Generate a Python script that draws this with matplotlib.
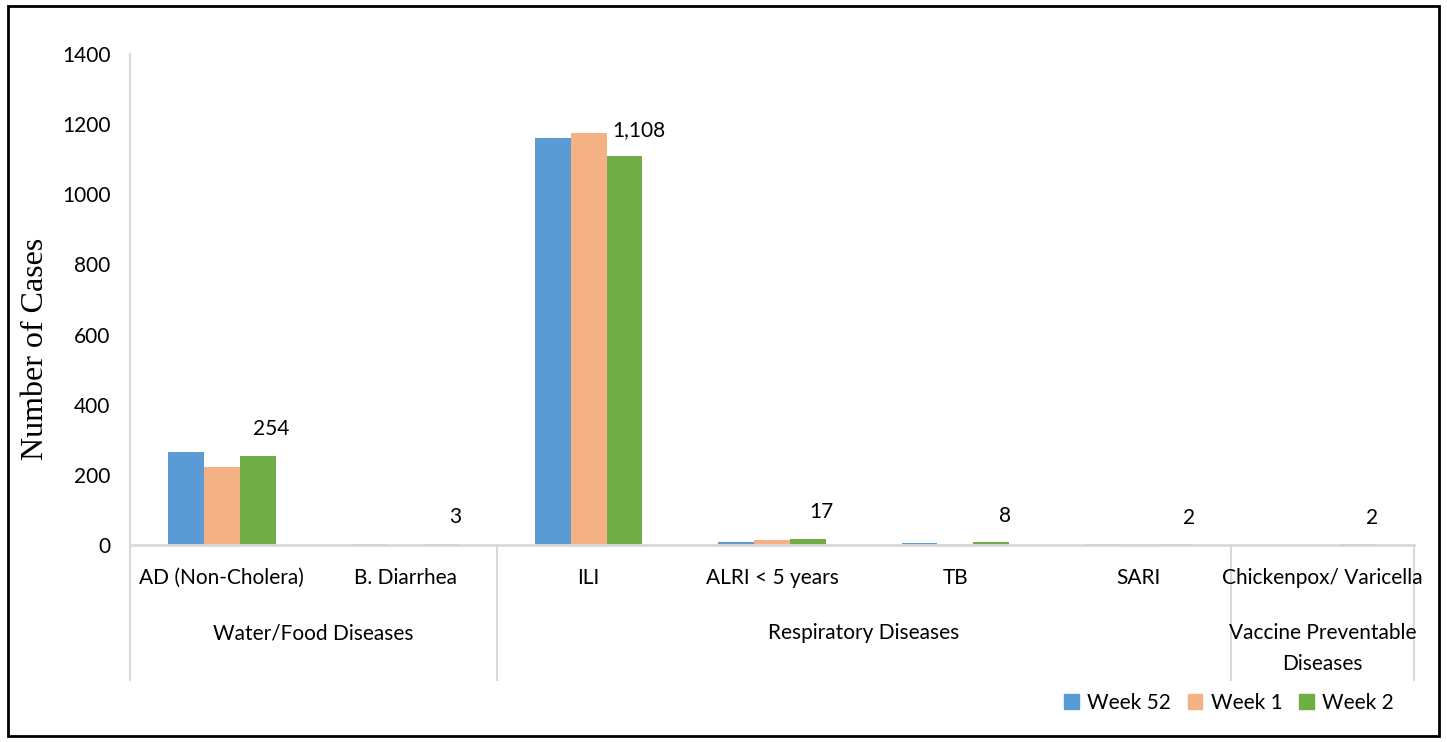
import matplotlib
matplotlib.use("Agg")
import matplotlib.pyplot as plt
import matplotlib.transforms as mtransforms
from matplotlib.patches import Rectangle, Patch
import numpy as np

# weekly case counts by disease
diseases = ["AD (Non-Cholera)", "B. Diarrhea", "ILI", "ALRI < 5 years", "TB", "SARI",
            "Chickenpox/ Varicella"]
groups = ["Water/Food Diseases", "Respiratory Diseases", "Vaccine Preventable\nDiseases"]
group_sizes = [2, 4, 1]
series = ["Week 52", "Week 1", "Week 2"]
week52 = [265, 3, 1160, 9, 5, 2, 1]
week1 = [222, 0, 1174, 15, 4, 3, 0]
week2 = [254, 3, 1108, 17, 8, 2, 2]
colors = ["#5B9BD5", "#F4B183", "#70AD47"]

W, H = 1447, 742
fig = plt.figure(figsize=(W / 100, H / 100), dpi=100)
ax = fig.add_axes([130 / W, (H - 545) / H, (1414 - 130) / W, (545 - 54) / H])

sans = ["Lato", "DejaVu Sans"]
grey = "#d9d9d9"
fs = 15

x = np.arange(len(diseases))
bw = 0.196
for i, (vals, name) in enumerate(zip([week52, week1, week2], series)):
    ax.bar(x + (i - 1) * bw, vals, bw, color=colors[i], label=name, zorder=2)

# data labels on the latest week
for xi, v in zip(x, week2):
    ax.annotate(f"{v:,}", (xi + bw, v), xytext=(10, 12), textcoords="offset points",
                ha="center", va="bottom", fontsize=fs, family=sans)

ax.set_xlim(-0.5, len(diseases) - 0.5)
ax.set_ylim(0, 1400)
ax.set_yticks(range(0, 1401, 200))
ax.tick_params(axis="y", length=0, pad=14, labelsize=fs)
for lab in ax.get_yticklabels():
    lab.set_family(sans)
ax.set_xticks([])

for s in ["top", "right"]:
    ax.spines[s].set_visible(False)
ax.spines["bottom"].set_color(grey)
ax.spines["bottom"].set_linewidth(2)
ax.spines["left"].set_color(grey)
ax.spines["left"].set_linewidth(1.5)

# multi-level category axis
trans = mtransforms.blended_transform_factory(ax.transData, ax.transAxes)
for xi, name in zip(x, diseases):
    ax.text(xi, -0.067, name, transform=trans, ha="center", va="center",
            fontsize=fs, family=sans)

bounds = np.concatenate([[0], np.cumsum(group_sizes)]) - 0.5
for b in bounds:
    ax.plot([b, b], [0, -0.275], transform=trans, color=grey, lw=1.5, clip_on=False)
for g, lo, hi in zip(groups, bounds[:-1], bounds[1:]):
    ax.text((lo + hi) / 2, -0.159, g, transform=trans, ha="center", va="top",
            fontsize=fs, family=sans, linespacing=1.7)

ax.set_ylabel("Number of Cases", family="Liberation Serif", fontsize=23)
ax.yaxis.set_label_coords(-0.062, 0.40)

handles = [Patch(color=c, label=s) for c, s in zip(colors, series)]
fig.legend(handles=handles, loc="center", bbox_to_anchor=(1229 / W, 1 - 703 / H),
           ncol=3, frameon=False, prop={"family": sans, "size": fs},
           handlelength=0.7, handleheight=0.7, handletextpad=0.4, columnspacing=0.8)

fig.patches.append(Rectangle((8 / W, 6 / H), (1439 - 8) / W, (736 - 6) / H,
                             transform=fig.transFigure, fill=False, ec="black", lw=2))

fig.savefig("out.png", dpi=100)
